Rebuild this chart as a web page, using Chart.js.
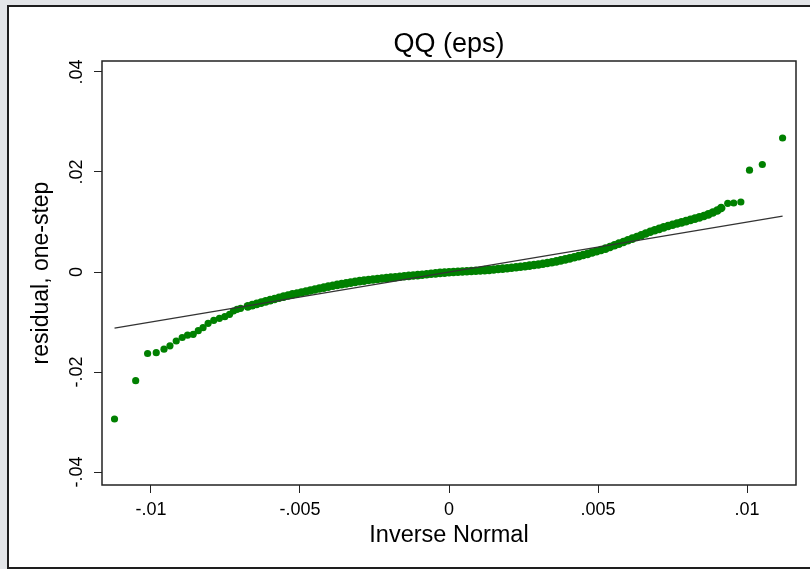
<!DOCTYPE html>
<html>
<head>
<meta charset="utf-8">
<script src="https://cdn.jsdelivr.net/npm/chart.js@4.4.0/dist/chart.umd.min.js"></script>
<style>
  html, body { margin: 0; padding: 0; }
  body { width: 810px; height: 569px; background: #e3e5e8; position: relative; overflow: hidden; }
  .marco { position: absolute; left: 7px; top: 5px; width: 810px; height: 564px; box-sizing: border-box;
           border: 2px solid #1e1e1e; background: #fff; }
  #grafico { position: absolute; left: 0; top: 0; }
</style>
</head>
<body>
<div class="marco"></div>
<canvas id="grafico" width="810" height="569"></canvas>
<script>
// cola izquierda (puntos sueltos)
const colaBajaX = [-0.01122, -0.01051, -0.01011, -0.00982, -0.00956, -0.00936, -0.00915, -0.00895, -0.00877,
  -0.00858, -0.00841, -0.00825, -0.00808, -0.00789, -0.00770, -0.00752, -0.00736, -0.00723, -0.00711, -0.00699];
const colaBajaY = [-0.02940, -0.02174, -0.01630, -0.01614, -0.01544, -0.01476, -0.01380, -0.01310, -0.01264,
  -0.01246, -0.01174, -0.01114, -0.01026, -0.00966, -0.00926, -0.00894, -0.00846, -0.00780, -0.00746, -0.00726];

// cuerpo denso
const cuerpoX = [-0.00675, -0.00660, -0.00645, -0.00630, -0.00615, -0.00600,
  -0.00585, -0.00570, -0.00555, -0.00540, -0.00525, -0.00510, -0.00495, -0.00480, -0.00465, -0.00450,
  -0.00435, -0.00420, -0.00405, -0.00390, -0.00375, -0.00360, -0.00345, -0.00330, -0.00315, -0.00300,
  -0.00285, -0.00270, -0.00255, -0.00240, -0.00225, -0.00210, -0.00195, -0.00180, -0.00165, -0.00150,
  -0.00135, -0.00120, -0.00105, -0.00090, -0.00075, -0.00060, -0.00045, -0.00030, -0.00015, 0,
  0.00015, 0.00030, 0.00045, 0.00060, 0.00075, 0.00090, 0.00105, 0.00120, 0.00135, 0.00150,
  0.00165, 0.00180, 0.00195, 0.00210, 0.00225, 0.00240, 0.00255, 0.00270, 0.00285, 0.00300,
  0.00315, 0.00330, 0.00345, 0.00360, 0.00375, 0.00390, 0.00405, 0.00420, 0.00435, 0.00450,
  0.00465, 0.00480, 0.00495, 0.00510, 0.00525, 0.00540, 0.00555, 0.00570, 0.00585, 0.00600,
  0.00615, 0.00630, 0.00645, 0.00660, 0.00675, 0.00690, 0.00705, 0.00720, 0.00735, 0.00750,
  0.00765, 0.00780, 0.00795, 0.00810, 0.00825, 0.00840, 0.00855, 0.00870, 0.00885, 0.00900, 0.00913];
const cuerpoY = [-0.00687, -0.00662, -0.00637, -0.00612, -0.00587, -0.00562,
  -0.00539, -0.00516, -0.00493, -0.00470, -0.00448, -0.00429, -0.00409, -0.00389, -0.00370, -0.00350,
  -0.00331, -0.00312, -0.00293, -0.00275, -0.00257, -0.00242, -0.00227, -0.00212, -0.00197, -0.00182,
  -0.00172, -0.00161, -0.00151, -0.00141, -0.00131, -0.00122, -0.00113, -0.00104, -0.00095, -0.00086,
  -0.00077, -0.00070, -0.00062, -0.00054, -0.00045, -0.00036, -0.00027, -0.00018, -0.00012, -0.00006,
  -0.00001, 0.00005, 0.00010, 0.00014, 0.00019, 0.00024, 0.00030, 0.00037, 0.00043, 0.00050,
  0.00059, 0.00067, 0.00075, 0.00085, 0.00095, 0.00105, 0.00116, 0.00127, 0.00139, 0.00150,
  0.00165, 0.00181, 0.00196, 0.00212, 0.00232, 0.00253, 0.00273, 0.00295, 0.00318, 0.00341,
  0.00363, 0.00389, 0.00415, 0.00441, 0.00467, 0.00499, 0.00534, 0.00568, 0.00601, 0.00634,
  0.00667, 0.00700, 0.00735, 0.00769, 0.00804, 0.00834, 0.00863, 0.00892, 0.00920, 0.00946,
  0.00970, 0.00993, 0.01017, 0.01042, 0.01068, 0.01093, 0.01121, 0.01153, 0.01189, 0.01230, 0.01280];

// cola derecha
const colaAltaX = [0.00935, 0.00955, 0.00979, 0.01008, 0.01051, 0.01119];
const colaAltaY = [0.01374, 0.01380, 0.01400, 0.02036, 0.02150, 0.02680];

// recta de referencia
const rectaX = [-0.01122, 0.01119];
const rectaY = [-0.01122, 0.01119];

const ticksX = [-0.01, -0.005, 0, 0.005, 0.01];
const ticksY = [-0.04, -0.02, 0, 0.02, 0.04];

const titulo = "QQ (eps)";
const tituloX = "Inverse Normal";
const tituloY = "residual, one-step";

function etiqueta(v) {
  const n = parseFloat(v.toFixed(4));
  if (n === 0) return "0";
  return String(n).replace("0.", ".");
}

const puntos = [];
const radios = [];
colaBajaX.forEach((x, i) => { puntos.push({ x, y: colaBajaY[i] }); radios.push(3.6); });
cuerpoX.forEach((x, i) => { puntos.push({ x, y: cuerpoY[i] }); radios.push(4.3); });
colaAltaX.forEach((x, i) => { puntos.push({ x, y: colaAltaY[i] }); radios.push(3.6); });

const recta = rectaX.map((x, i) => ({ x, y: rectaY[i] }));

const fuente = "'Liberation Sans', Arial, sans-serif";

// marco del area, titulo y etiquetas verticales del eje y
const extras = {
  id: "extras",
  afterDraw(chart) {
    const { ctx, chartArea: a } = chart;
    const ey = chart.scales.y;
    ctx.save();
    ctx.strokeStyle = "#222";
    ctx.lineWidth = 1.5;
    ctx.strokeRect(a.left, a.top, a.right - a.left, a.bottom - a.top);
    ctx.fillStyle = "#000";
    ctx.textAlign = "center";
    ctx.textBaseline = "middle";
    ctx.font = "27px " + fuente;
    ctx.fillText(titulo, (a.left + a.right) / 2, 45);
    ctx.font = "18px " + fuente;
    ticksY.forEach(v => {
      const py = ey.getPixelForValue(v);
      ctx.save();
      ctx.translate(77, py);
      ctx.rotate(-Math.PI / 2);
      ctx.fillText(etiqueta(v), 0, 0);
      ctx.restore();
    });
    ctx.restore();
  }
};

const chart = new Chart(document.getElementById("grafico"), {
  type: "scatter",
  data: {
    datasets: [
      {
        data: recta,
        showLine: true,
        borderColor: "#333",
        borderWidth: 1.3,
        pointRadius: 0,
        order: 0
      },
      {
        data: puntos,
        backgroundColor: "#008000",
        borderWidth: 0,
        pointRadius: radios,
        order: 1
      }
    ]
  },
  options: {
    responsive: false,
    animation: false,
    devicePixelRatio: 1,
    layout: { padding: { left: 0, right: 14, top: 61, bottom: 0 } },
    plugins: {
      legend: { display: false },
      tooltip: { enabled: false },
      title: { display: false }
    },
    scales: {
      x: {
        type: "linear",
        min: -0.01164,
        max: 0.01164,
        afterFit: s => { s.height = 84; },
        afterBuildTicks: s => { s.ticks = ticksX.map(v => ({ value: v })); },
        border: { display: false },
        grid: { drawOnChartArea: false, drawTicks: true, tickLength: 8, color: "#222", lineWidth: 1 },
        ticks: {
          color: "#000",
          padding: 6,
          maxRotation: 0,
          font: { family: fuente, size: 18 },
          callback: v => etiqueta(v)
        },
        title: {
          display: true,
          text: tituloX,
          color: "#000",
          font: { family: fuente, size: 23.5 },
          padding: { top: 0, bottom: 19 }
        }
      },
      y: {
        type: "linear",
        min: -0.0426,
        max: 0.0422,
        afterFit: s => { s.width = 102; },
        afterBuildTicks: s => { s.ticks = ticksY.map(v => ({ value: v })); },
        border: { display: false },
        grid: { drawOnChartArea: false, drawTicks: true, tickLength: 8, color: "#222", lineWidth: 1 },
        ticks: { display: false },
        title: {
          display: true,
          text: tituloY,
          color: "#000",
          font: { family: fuente, size: 23 },
          padding: { top: 28, bottom: 0 }
        }
      }
    }
  },
  plugins: [extras]
});
</script>
</body>
</html>
